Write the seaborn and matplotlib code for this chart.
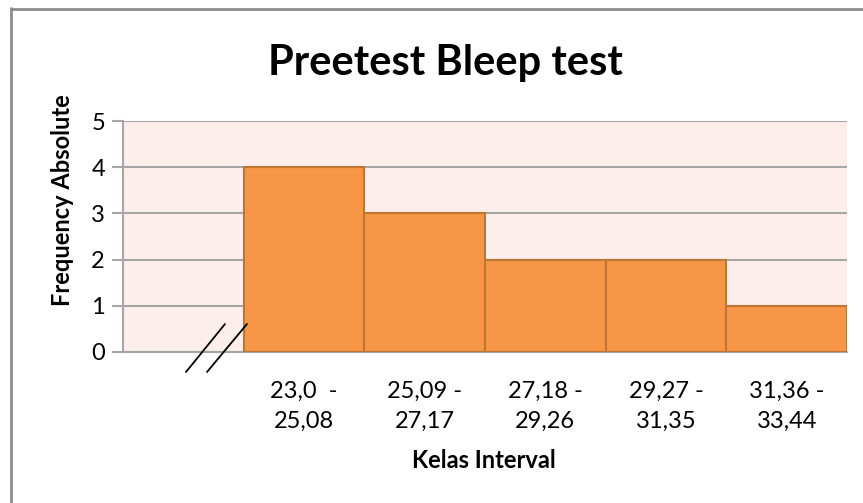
import matplotlib
matplotlib.use('Agg')
import matplotlib.pyplot as plt
import seaborn as sns
import pandas as pd
from matplotlib.lines import Line2D

# data
kelas = ['23,0  -\n25,08', '25,09 -\n27,17', '27,18 -\n29,26',
         '29,27 -\n31,35', '31,36 -\n33,44']
frekuensi = [4, 3, 2, 2, 1]
yticks = [0, 1, 2, 3, 4, 5]

df = pd.DataFrame({'Kelas': kelas, 'Frekuensi': frekuensi})

sns.set_style('white')
plt.rcParams['font.family'] = ['Lato', 'DejaVu Sans']
plt.rcParams['text.color'] = 'black'
plt.rcParams['xtick.labelcolor'] = 'black'
plt.rcParams['ytick.labelcolor'] = 'black'

W, H = 863, 503
fig = plt.figure(figsize=(W / 100, H / 100), dpi=100)
ax = fig.add_axes([123 / W, 1 - 352 / H, (847 - 123) / W, (352 - 121) / H])
ax.set_facecolor('#FCEEEA')

sns.barplot(data=df, x='Kelas', y='Frekuensi', ax=ax, color='#F79646',
            edgecolor='#BE7634', linewidth=1.5, width=1.0, saturation=1,
            zorder=3)

# empty first slot, like the original
ax.set_xlim(-1.5, 4.5)
ax.set_ylim(0, 5)
ax.set_yticks(yticks)
ax.yaxis.grid(True, color='#A6A6A6', linewidth=1.5, zorder=0)
ax.set_axisbelow(True)

for s in ['top', 'right', 'bottom']:
    ax.spines[s].set_visible(False)
ax.spines['left'].set_color('#A6A6A6')
ax.spines['left'].set_linewidth(1.5)
ax.axhline(0, color='#A6A6A6', linewidth=1.5, zorder=1, clip_on=False)

ax.tick_params(axis='y', length=8, width=1.5, color='#A6A6A6', left=True,
               labelsize=17, pad=5, labelcolor='black')
ax.tick_params(axis='x', length=0, labelsize=17, pad=21, labelcolor='black')
for t in ax.get_xticklabels():
    t.set_multialignment('center')
    t.set_linespacing(1.5)

ax.set_xlabel('')
ax.set_ylabel('')

fig.text(445 / W, 1 - 63 / H, 'Preetest Bleep test', fontsize=30,
         fontweight='bold', ha='center', va='center', color='black')
fig.text(63 / W, 1 - 200 / H, 'Frequency Absolute', fontsize=17,
         fontweight='bold', rotation=90, ha='center', va='center',
         color='black')
fig.text(484 / W, 1 - 461 / H, 'Kelas Interval', fontsize=17,
         fontweight='bold', ha='center', va='center', color='black')

# axis break marks
def px_line(x0, y0, x1, y1, **kw):
    fig.add_artist(Line2D([x0 / W, x1 / W], [1 - y0 / H, 1 - y1 / H],
                          transform=fig.transFigure, **kw))

px_line(186, 372, 225, 324, color='black', linewidth=1.3)
px_line(207, 372, 247, 324, color='black', linewidth=1.3)

# outer chart frame
px_line(11, 8, 11, 503, color='#8C8C8C', linewidth=2)
px_line(11, 9, 863, 9, color='#8C8C8C', linewidth=2)

fig.savefig('out.png', dpi=100)
